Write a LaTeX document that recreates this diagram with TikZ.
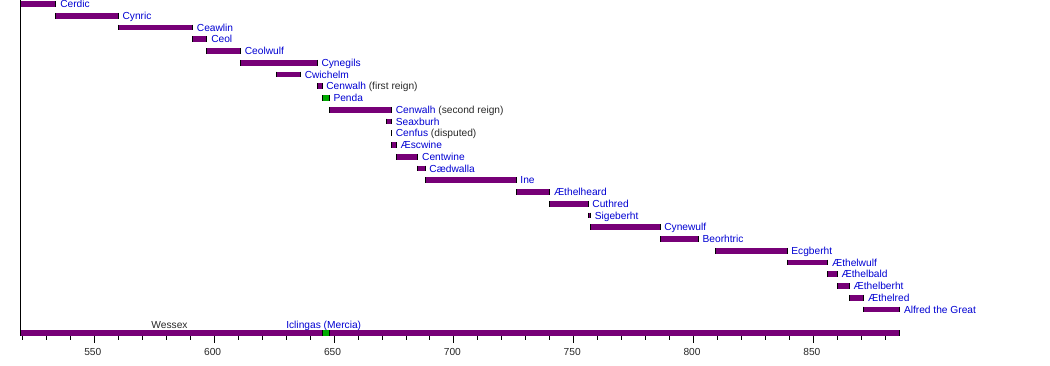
\documentclass[tikz,border=0pt]{standalone}
\usepackage{fontspec}
\setmainfont{Liberation Sans}
\definecolor{barpurple}{RGB}{119,0,119}
\definecolor{linkblue}{RGB}{0,0,210}
\definecolor{pendagreen}{RGB}{0,170,0}
\definecolor{txtgray}{RGB}{40,40,40}
\newcommand{\reign}[6]{%
  \pgfmathsetmacro{\rgA}{20+2.397*(#1-519)}%
  \pgfmathsetmacro{\rgB}{20+2.397*(#2-519)}%
  \pgfmathsetmacro{\rgY}{4+11.75*#3}%
  \fill[#4] (\rgA,\rgY-2.8) rectangle (\rgB,\rgY+2.8);
  \draw[endmark] (\rgA,\rgY-2.8) -- (\rgA,\rgY+2.8) (\rgB,\rgY-2.8) -- (\rgB,\rgY+2.8);
  \node[lbl] (#5) at (\rgB+4.3,\rgY+3.7) {#6};
}
\newcommand{\extra}[1]{\textcolor{txtgray}{#1}}
\begin{document}
\begin{tikzpicture}[x=1pt,y=-1pt,
  lbl/.style={anchor=base west, inner sep=0pt, outer sep=0pt, font=\fontsize{10.2}{12}\selectfont, text=linkblue},
  ticklbl/.style={anchor=base, inner sep=0pt, font=\fontsize{10.2}{12}\selectfont, text=txtgray},
  endmark/.style={draw=black, line width=1pt},
  axisline/.style={draw=black, line width=1pt},
  tickline/.style={draw=black, line width=0.8pt}]
\useasboundingbox (0,0) rectangle (1050,366);
% vertical axis
\coordinate (axtop) at (20,0);
\coordinate (axbot) at (20,336);
\draw[axisline] (axtop) -- (axbot);
% reigns
\reign{519}{534}{0}{barpurple}{cerdic}{Cerdic}
\reign{534}{560}{1}{barpurple}{cynric}{Cynric}
\reign{560}{591}{2}{barpurple}{ceawlin}{Ceawlin}
\reign{591}{597}{3}{barpurple}{ceol}{Ceol}
\reign{597}{611}{4}{barpurple}{ceolwulf}{Ceolwulf}
\reign{611}{643}{5}{barpurple}{cynegils}{Cynegils}
\reign{626}{636}{6}{barpurple}{cwichelm}{Cwichelm}
\reign{643}{645}{7}{barpurple}{cenwalhA}{Cenwalh \extra{(first reign)}}
\reign{645}{648}{8}{pendagreen}{penda}{Penda}
\reign{648}{674}{9}{barpurple}{cenwalhB}{Cenwalh \extra{(second reign)}}
\reign{672}{674}{10}{barpurple}{seaxburh}{Seaxburh}
\reign{674}{674}{11}{barpurple}{cenfus}{Cenfus \extra{(disputed)}}
\reign{674}{676}{12}{barpurple}{aescwine}{Æscwine}
\reign{676}{685}{13}{barpurple}{centwine}{Centwine}
\reign{685}{688}{14}{barpurple}{caedwalla}{Cædwalla}
\reign{688}{726}{15}{barpurple}{ine}{Ine}
\reign{726}{740}{16}{barpurple}{aethelheard}{Æthelheard}
\reign{740}{756}{17}{barpurple}{cuthred}{Cuthred}
\reign{756}{757}{18}{barpurple}{sigeberht}{Sigeberht}
\reign{757}{786}{19}{barpurple}{cynewulf}{Cynewulf}
\reign{786}{802}{20}{barpurple}{beorhtric}{Beorhtric}
\reign{809}{839}{21}{barpurple}{ecgberht}{Ecgberht}
\reign{839}{856}{22}{barpurple}{aethelwulf}{Æthelwulf}
\reign{856}{860}{23}{barpurple}{aethelbald}{Æthelbald}
\reign{860}{865}{24}{barpurple}{aethelberht}{Æthelberht}
\reign{865}{871}{25}{barpurple}{aethelred}{Æthelred}
\reign{871}{886}{26}{barpurple}{alfred}{Alfred the Great}
% Wessex bar
\pgfmathsetmacro{\wxA}{20+2.397*(519-519)}
\pgfmathsetmacro{\wxB}{20+2.397*(886-519)}
\pgfmathsetmacro{\wxG}{20+2.397*(645-519)}
\pgfmathsetmacro{\wxH}{20+2.397*(648-519)}
\fill[barpurple] (\wxA,330) rectangle (\wxB,336);
\fill[pendagreen] (\wxG,330) rectangle (\wxH,336);
\draw[endmark] (\wxG,330) -- (\wxG,336) (\wxH,330) -- (\wxH,336);
\draw[endmark] (\wxA,330) -- (\wxA,336) (\wxB,330) -- (\wxB,336);
\node[ticklbl] (wessex) at (169.5,328) {Wessex};
\node[ticklbl, text=linkblue] (iclingas) at (323.7,328) {Iclingas (Mercia)};
% ticks
\foreach \yr in {520,530,...,880}{
  \pgfmathsetmacro{\tx}{20+2.397*(\yr-519)}
  \pgfmathtruncatemacro{\ismaj}{mod(\yr,50)==0 ? 1 : 0}
  \ifnum\ismaj=1
    \draw[tickline] (\tx,336) -- (\tx,342.5);
    \node[ticklbl] (tick\yr) at (\tx-1.5,355.5) {\yr};
  \else
    \draw[tickline] (\tx,336) -- (\tx,340);
  \fi
}
\end{tikzpicture}
\end{document}
